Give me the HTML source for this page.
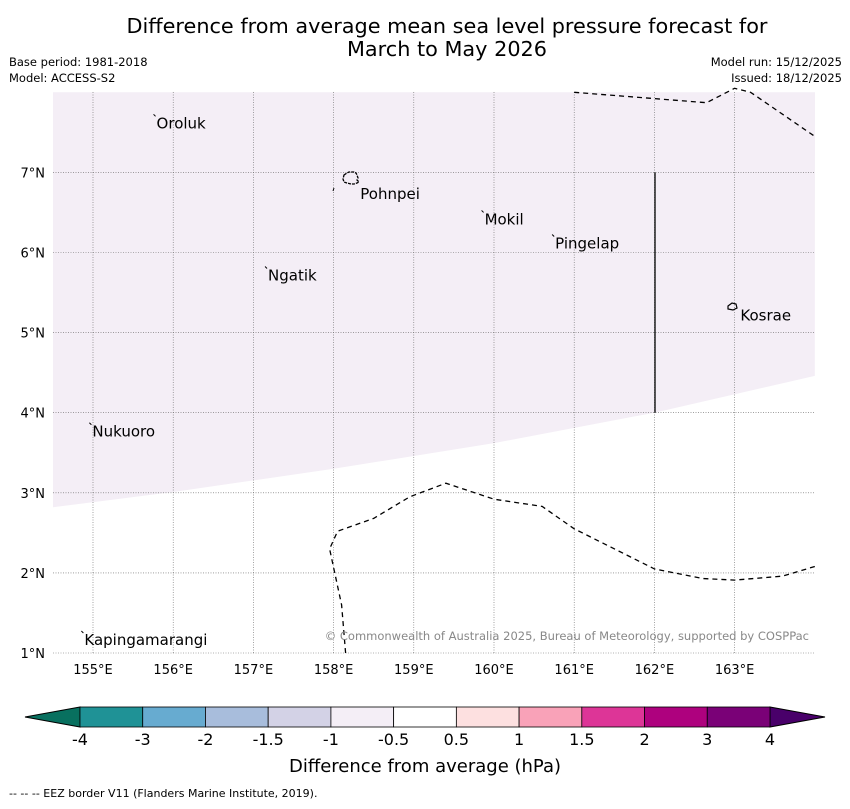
<!DOCTYPE html>
<html><head><meta charset="utf-8"><style>
body{margin:0;background:#fff;font-family:"Liberation Sans","DejaVu Sans",sans-serif}
svg text{font-family:"DejaVu Sans","Liberation Sans",sans-serif}
</style></head><body>
<svg id="c" width="850" height="804" xmlns="http://www.w3.org/2000/svg">
<text x="447" y="33" font-size="20.8" text-anchor="middle">Difference from average mean sea level pressure forecast for</text>
<text x="447" y="56" font-size="20.8" text-anchor="middle">March to May 2026</text>
<text x="9" y="66" font-size="11.5">Base period: 1981-2018</text>
<text x="9" y="82" font-size="11.5">Model: ACCESS-S2</text>
<text x="842" y="66" font-size="11.5" text-anchor="end">Model run: 15/12/2025</text>
<text x="842" y="82" font-size="11.5" text-anchor="end">Issued: 18/12/2025</text>
<g id="map"></g>
<g id="cb"></g>
<text x="425" y="772" font-size="18" text-anchor="middle">Difference from average (hPa)</text>
<text x="9" y="797" font-size="11">--  --  -- EEZ border V11 (Flanders Marine Institute, 2019).</text>
</svg>
<script>
const lonTicks=[155,156,157,158,159,160,161,162,163];
const latTicks=[1,2,3,4,5,6,7];
const placeNames=["Oroluk","Pohnpei","Mokil","Pingelap","Ngatik","Kosrae","Nukuoro","Kapingamarangi"];
const placeLon=[155.78,158.32,159.87,160.75,157.17,163.06,154.98,154.88];
const placeLat=[7.7,6.82,6.5,6.2,5.8,5.3,3.85,1.25];
const shadeLon=[154.5,156,158,160,162,164];
const shadeLat=[2.82,3.01,3.3,3.62,4.0,4.46];
const eezTopLon=[161.0,162.65,163.0,163.2,164];
const eezTopLat=[8.0,7.87,8.05,8.0,7.45];
const eezBotLon=[158.15,158.1,157.95,158.05,158.5,158.95,159.4,160.0,160.6,161.0,162.0,162.6,163.0,163.6,164];
const eezBotLat=[1.0,1.6,2.3,2.52,2.68,2.95,3.12,2.92,2.83,2.55,2.05,1.93,1.91,1.96,2.08];
const cbLabels=["-4","-3","-2","-1.5","-1","-0.5","0.5","1","1.5","2","3","4"];
const cbColors=["#1f9296","#67abd0","#a8bddc","#d3d2e6","#f4eef6","#ffffff","#fde0e0","#f9a2b8","#dd3597","#ae017e","#7a0177"];
const X=lon=>93+(lon-155)*80.2, Y=lat=>653-(lat-1)*80.1;
const NS="http://www.w3.org/2000/svg";
function mk(p,t,a){const e=document.createElementNS(NS,t);for(const k in a)e.setAttribute(k,a[k]);p.appendChild(e);return e;}
const m=document.getElementById('map');
let d="M53,"+Y(8)+" L815,"+Y(8);
for(let i=shadeLon.length-1;i>=0;i--)d+=" L"+Math.min(815,Math.max(53,X(shadeLon[i]))).toFixed(1)+","+Y(shadeLat[i]).toFixed(1);
let sh=mk(m,'path',{d:d+"Z",fill:"#f4eef6"});


lonTicks.forEach(v=>{let l=mk(m,'line',{x1:X(v),x2:X(v),y1:92,y2:653,stroke:"#666","stroke-width":0.6,"stroke-dasharray":"1,1.5"});


let t=mk(m,'text',{x:X(v),y:674,"font-size":13,"text-anchor":"middle"});t.textContent=v+"°E";

});
latTicks.forEach(v=>{let l=mk(m,'line',{x1:53,x2:815,y1:Y(v),y2:Y(v),stroke:"#666","stroke-width":0.6,"stroke-dasharray":"1,1.5"});


let t=mk(m,'text',{x:45,y:Y(v)+5,"font-size":13,"text-anchor":"end"});t.textContent=v+"°N";

});
function poly(lo,la,name){let p=mk(m,'polyline',{points:lo.map((v,i)=>Math.min(815,X(v)).toFixed(1)+","+Y(la[i]).toFixed(1)).join(" "),fill:"none",stroke:"#000","stroke-width":1.3,"stroke-dasharray":"5,4"});

}
poly(eezTopLon,eezTopLat,'eez-border-north');
poly(eezBotLon,eezBotLat,'eez-border-south');
let vl=mk(m,'line',{x1:655,x2:655,y1:Y(7),y2:Y(4),stroke:"#222","stroke-width":1.5});


let pi=mk(m,'path',{d:"M344,175 l3,-2 2,-1 2,0 3,0 2,1 1,2 1,3 -1,2 2,2 -2,1 -3,1 -3,0 -4,-1 -3,-1 -1,-3z",fill:"none",stroke:"#000","stroke-width":1.3,"stroke-dasharray":"3,1"});


let pm=mk(m,'line',{x1:334,y1:188,x2:333,y2:191,stroke:"#000","stroke-width":1});


let ki=mk(m,'path',{d:"M728,306 l4,-3 4,1 1,4 -4,2 -5,-1z",fill:"none",stroke:"#000","stroke-width":1.2});


placeNames.forEach((n,i)=>{const x=X(placeLon[i]),y=Y(placeLat[i]);
if(n!=="Pohnpei"&&n!=="Kosrae"){let mkr=mk(m,'line',{x1:x-2,y1:y-2,x2:x,y2:y,stroke:"#000","stroke-width":1});

}
let t=mk(m,'text',{x:x+1,y:y+12,"font-size":15});t.textContent=n;

});
let cp=mk(m,'text',{x:809,y:640,"font-size":11.5,"text-anchor":"end",fill:"#888"});
cp.textContent="© Commonwealth of Australia 2025, Bureau of Meteorology, supported by COSPPac";


const cb=document.getElementById('cb');const x0=80,x1=770,y0=707,y1=727,w=(x1-x0)/cbColors.length;
let lt=mk(cb,'path',{d:`M${x0},${y0} L25,717 L${x0},${y1}Z`,fill:"#08705f",stroke:"#000","stroke-width":1});


let rt=mk(cb,'path',{d:`M${x1},${y0} L825,717 L${x1},${y1}Z`,fill:"#49006a",stroke:"#000","stroke-width":1});


cbColors.forEach((c,i)=>{let r=mk(cb,'rect',{x:x0+i*w,y:y0,width:w,height:y1-y0,fill:c,stroke:"#000","stroke-width":0.8});

});
cbLabels.forEach((s,i)=>{let t=mk(cb,'text',{x:x0+i*w,y:745,"font-size":16,"text-anchor":"middle"});t.textContent=s;

});
</script>
</body></html>
